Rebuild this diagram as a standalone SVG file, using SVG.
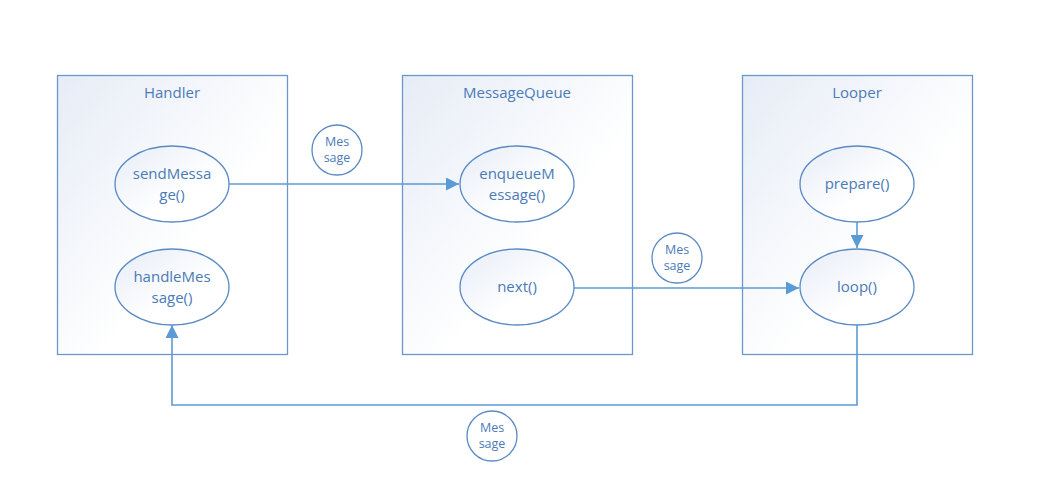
<svg xmlns="http://www.w3.org/2000/svg" width="1037" height="480" viewBox="0 0 1037 480">
<defs>
<linearGradient id="g" x1="0" y1="0" x2="1" y2="1">
<stop offset="0" stop-color="#e6ecf6"/>
<stop offset="0.6" stop-color="#ffffff"/>
</linearGradient>
<marker id="a" viewBox="0 0 10 10" refX="10" refY="5" markerWidth="13" markerHeight="13" markerUnits="userSpaceOnUse" orient="auto">
<path d="M0,0 L10,5 L0,10 z" fill="#5b9bd5"/>
</marker>
<style>
.box{fill:url(#g);stroke:#6a98cc;stroke-width:1.3}
.el{fill:url(#g);stroke:#5a8ac4;stroke-width:1.3}
.lbl{fill:#fff;stroke:#5a8ac4;stroke-width:1.3}
text{font-family:"Open Sans","Liberation Sans",sans-serif;font-size:15px;fill:#4a7bb7;text-anchor:middle}
.s{font-size:12.5px}
.c{fill:none;stroke:#5b9bd5;stroke-width:1.6}
</style>
</defs>
<rect width="1037" height="480" fill="#fff"/>
<g id="handler">
<rect class="box" x="57.5" y="75.5" width="230" height="279"/>
<text x="172" y="98">Handler</text>
</g>
<g id="messagequeue">
<rect class="box" x="402.5" y="75.5" width="230" height="279"/>
<text x="517" y="98">MessageQueue</text>
</g>
<g id="looper">
<rect class="box" x="742.5" y="75.5" width="230" height="279"/>
<text x="857" y="98">Looper</text>
</g>
<g id="sendMessage">
<ellipse class="el" cx="172" cy="184" rx="57" ry="38"/>
<text x="172" y="179">sendMessa</text>
<text x="172" y="200">ge()</text>
</g>
<g id="handleMessage">
<ellipse class="el" cx="172" cy="287" rx="57" ry="38"/>
<text x="172" y="282">handleMes</text>
<text x="172" y="303">sage()</text>
</g>
<g id="enqueueMessage">
<ellipse class="el" cx="517" cy="184" rx="57" ry="38"/>
<text x="517" y="179">enqueueM</text>
<text x="517" y="200">essage()</text>
</g>
<g id="next">
<ellipse class="el" cx="517" cy="287" rx="57" ry="38"/>
<text x="517" y="292">next()</text>
</g>
<g id="prepare">
<ellipse class="el" cx="857" cy="184" rx="57" ry="38"/>
<text x="857" y="189">prepare()</text>
</g>
<g id="loop">
<ellipse class="el" cx="857" cy="287" rx="57" ry="38"/>
<text x="857" y="292">loop()</text>
</g>
<g id="connectors">
<path class="c" d="M229,184 H459" marker-end="url(#a)"/>
<path class="c" d="M574,288 H799" marker-end="url(#a)"/>
<path class="c" d="M857,222 V248" marker-end="url(#a)"/>
<path class="c" d="M857,325 V405 H172 V325" marker-end="url(#a)"/>
</g>
<g id="msg1">
<circle class="lbl" cx="337" cy="150" r="25"/>
<text class="s" x="337" y="146">Mes</text>
<text class="s" x="337" y="162">sage</text>
</g>
<g id="msg2">
<circle class="lbl" cx="677" cy="258" r="25"/>
<text class="s" x="677" y="254">Mes</text>
<text class="s" x="677" y="270">sage</text>
</g>
<g id="msg3">
<circle class="lbl" cx="492" cy="436" r="25"/>
<text class="s" x="492" y="432">Mes</text>
<text class="s" x="492" y="448">sage</text>
</g>
</svg>
